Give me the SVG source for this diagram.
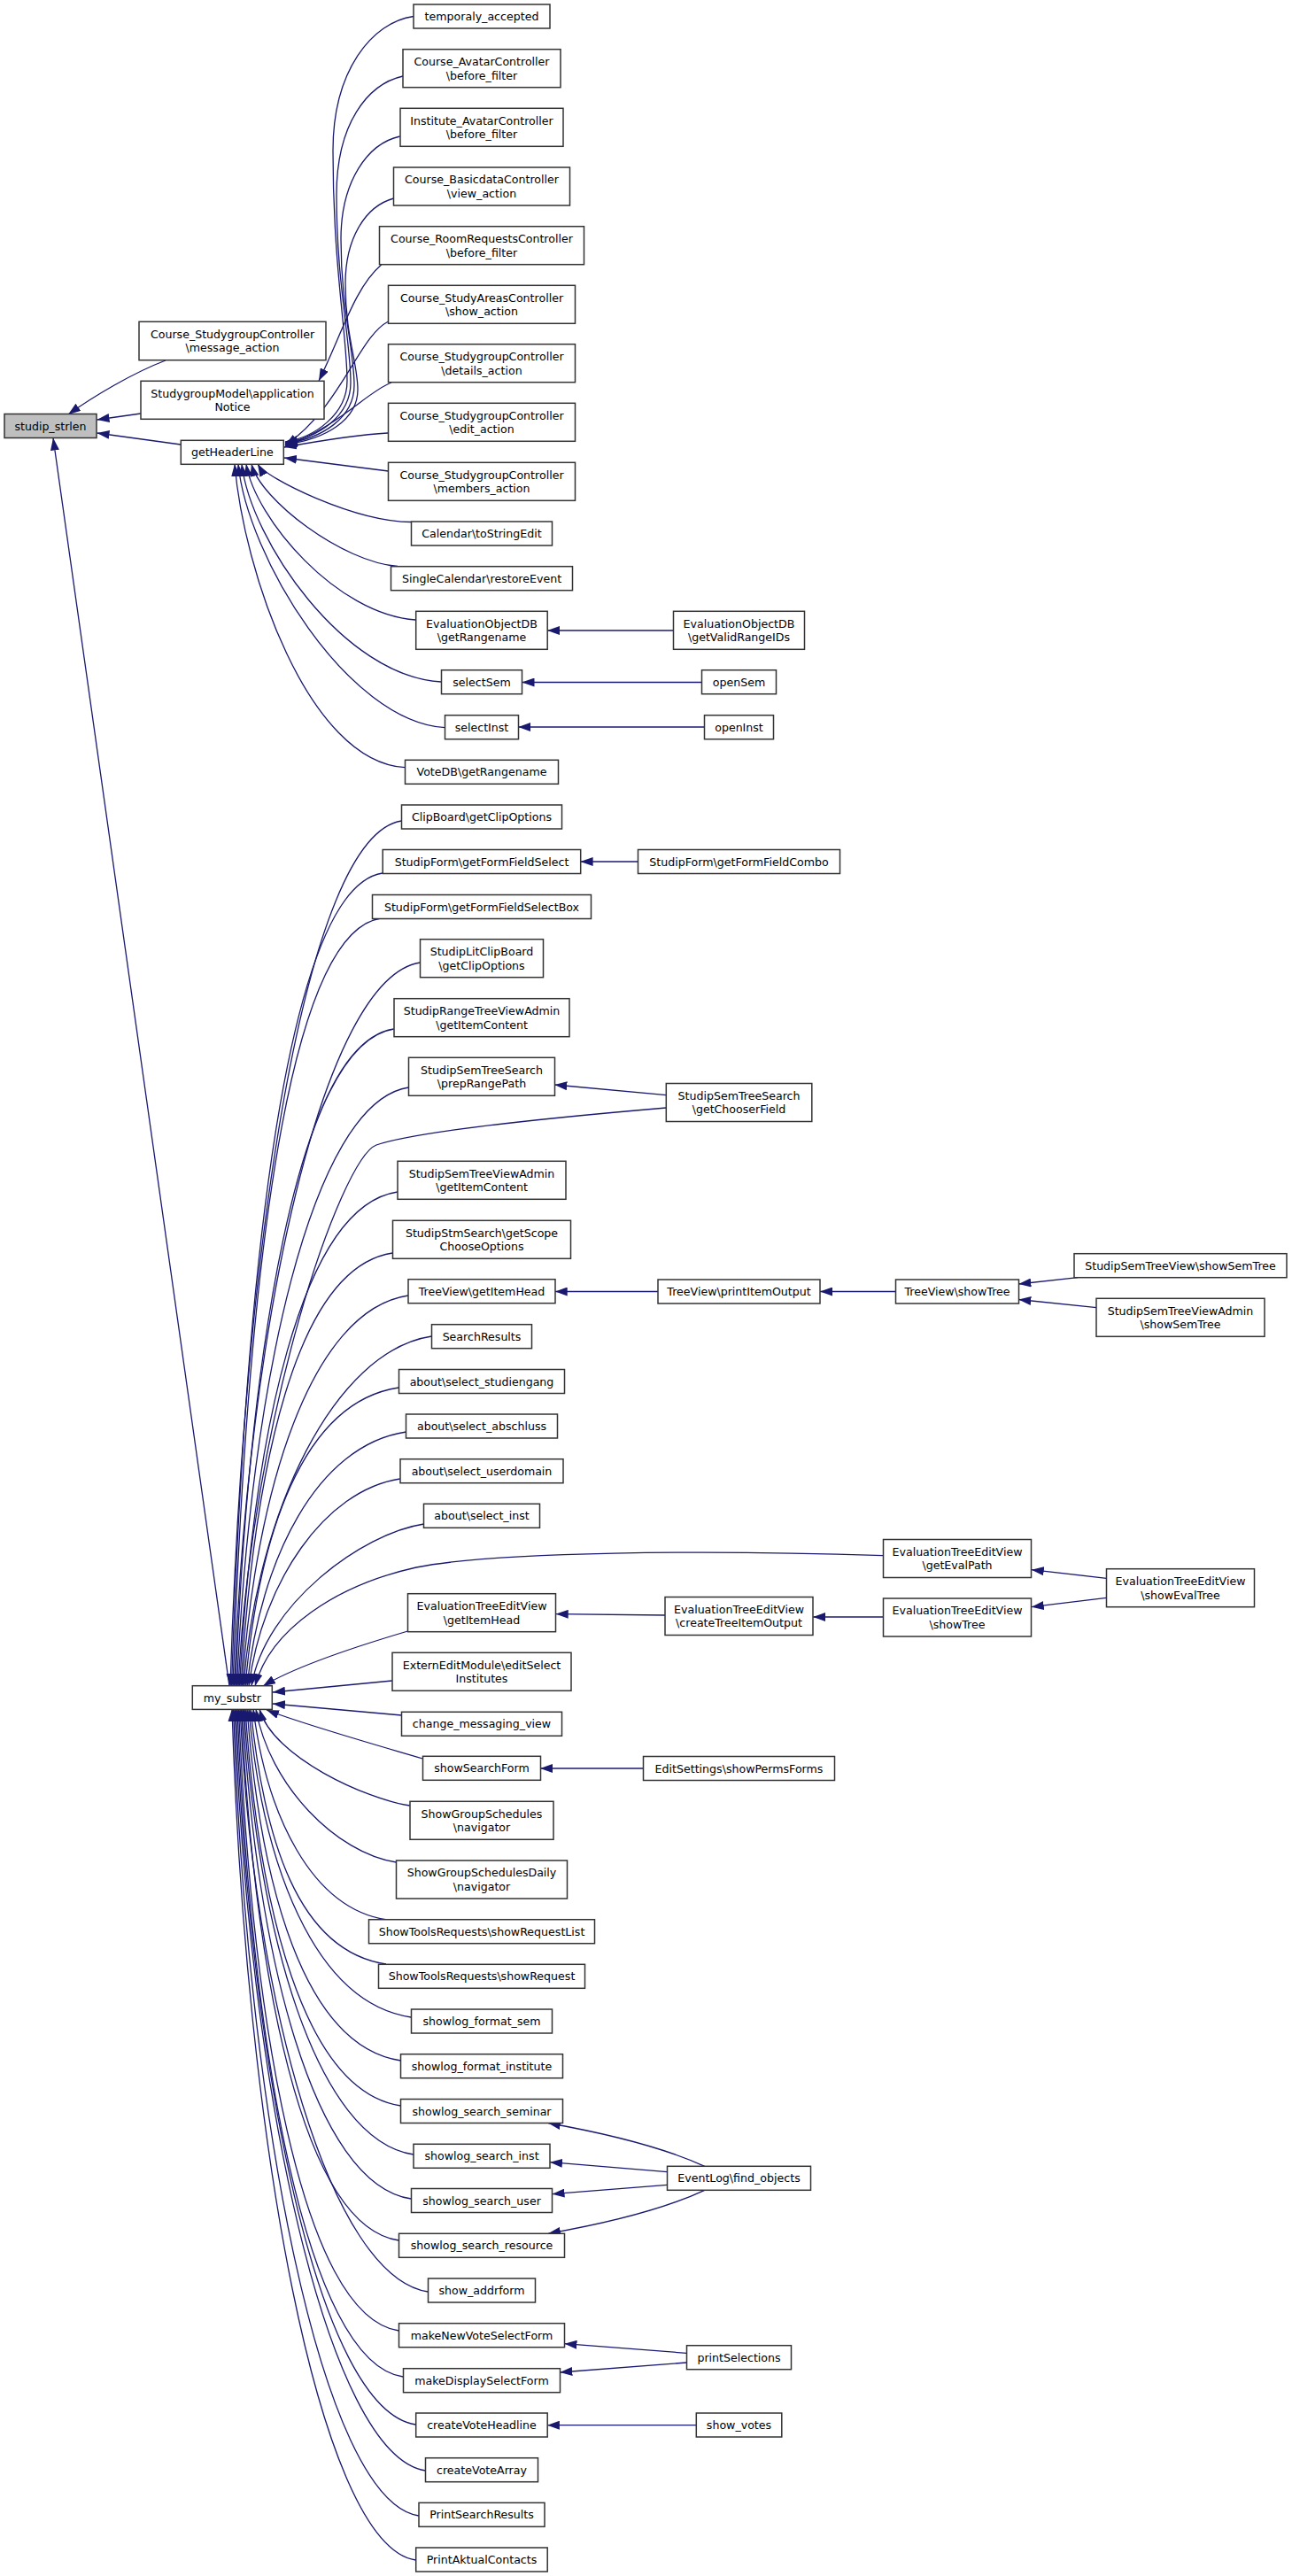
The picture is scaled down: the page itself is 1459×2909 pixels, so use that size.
<svg xmlns="http://www.w3.org/2000/svg" width="1459" height="2909" viewBox="0 0 1459 2909">
<style>
rect{fill:#fff;stroke:#333;stroke-width:1.5}
.grey rect{fill:#bfbfbf}
text{font-family:"DejaVu Sans","Liberation Sans",sans-serif;font-size:12.6px;text-anchor:middle;fill:#000}
#edges path{fill:none;stroke:#191970;stroke-width:1.3;marker-end:url(#ah)}
</style>
<defs>
<marker id="ah" markerUnits="userSpaceOnUse" markerWidth="14" markerHeight="10" refX="14" refY="5" orient="auto"><path d="M0,0 L14,5 L0,10 z" fill="#191970"/></marker>
</defs>
<rect x="0" y="0" width="1459" height="2909" style="fill:#fff;stroke:none"/>
<g id="edges">
<path d="M187,407 C150,421 105,448 77,468"/>
<path d="M159,467 L109.5,474"/>
<path d="M204,502 L109.5,489"/>
<path d="M259,1904 L60,494.5"/>
<path d="M430.6,299 C400,325 385,380 360,430"/>
<path d="M467,18.5 C420,25 376,80 376,170 C376,300 392,380 392,430 C392,468 355,494 322,499"/>
<path d="M455,86 C415,95 380,140 380,220 C380,320 396,385 396,432 C396,470 360,494 322,500"/>
<path d="M451.6,154 C415,162 385,205 385,270 C385,350 400,395 400,435 C400,472 364,495 322,501"/>
<path d="M444.6,224 C412,233 390,270 390,320 C390,380 404,410 404,440 C404,474 368,496 322,502"/>
<path d="M438.5,363 C405,380 385,460 322,503"/>
<path d="M442,432 C415,442 385,480 322,504"/>
<path d="M438,489 C400,491 360,498 321,505"/>
<path d="M438.5,532 L321,517"/>
<path d="M464.2,589.5 C400,589 300,540 291,524"/>
<path d="M449,639.5 C387,635 294,564.6 284,524"/>
<path d="M469.4,700 C380.4,694 288,585.6 278,524"/>
<path d="M498.2,770 C388.2,764 283,610 273,524"/>
<path d="M502.4,821.7 C392.4,815 279,628 269,524"/>
<path d="M457.3,866.7 C347.3,860 275,644 265,524"/>
<path d="M760.3,712 L618,712"/>
<path d="M792.5,770.5 L589.5,770.5"/>
<path d="M795.3,821 L585.3,821"/>
<path d="M453.5,927 C343.5,943.5 275,1415.5 260,1904"/>
<path d="M432,986 C322,1002.5 276.5,1445 261.5,1904"/>
<path d="M720.3,973 L655.6,973"/>
<path d="M430,1037 C320,1053.5 278,1470.5 263,1904"/>
<path d="M474.5,1087 C364.5,1103.5 279.5,1495.5 264.5,1904"/>
<path d="M444.7,1162 C334.7,1178.5 281,1533 266,1904"/>
<path d="M461.5,1228 C351.5,1244.5 282.5,1566 267.5,1904"/>
<path d="M752.4,1236.7 L626.3,1225"/>
<path d="M752.4,1251 C600,1264 470,1278 425,1293 C385,1308 284,1600 269,1904"/>
<path d="M448.9,1346 C338.9,1362.5 285.5,1625 270.5,1904"/>
<path d="M443.3,1415 C333.3,1431.5 287,1659.5 272,1904"/>
<path d="M461,1463 C351,1479.5 288.5,1683.5 273.5,1904"/>
<path d="M743,1458.5 L626.7,1458.5"/>
<path d="M1011.6,1458.5 L926,1458.5"/>
<path d="M1217,1442.7 L1150.3,1450"/>
<path d="M1238.3,1476.7 L1150.3,1467.5"/>
<path d="M487.5,1509 C377.5,1525.5 290,1706.5 275,1904"/>
<path d="M450.3,1567 C340.3,1583.5 292,1735.5 277,1904"/>
<path d="M458.7,1617 C357.7,1632 294,1760.5 279,1904"/>
<path d="M451.7,1670 C366.7,1683 296,1787 281,1904"/>
<path d="M478.7,1721 C408.7,1731.5 299,1812.5 284,1904"/>
<path d="M997.3,1756.7 C800,1750 560,1752 470,1770 C380,1790 305,1840 288,1904"/>
<path d="M460.5,1842 C420,1854 340,1878 297,1904"/>
<path d="M751,1824 L627.7,1822.7"/>
<path d="M997.6,1826 L918.2,1826"/>
<path d="M1249.5,1782.3 L1164.8,1772.7"/>
<path d="M1249.5,1804.3 L1164.8,1814.7"/>
<path d="M442.8,1898 L308,1911"/>
<path d="M453.5,1937 L308,1924"/>
<path d="M477.3,1986 C430,1972 345,1948 301,1931"/>
<path d="M726.4,1997 L610,1997"/>
<path d="M462.8,2039 C414.8,2032 308,1984.5 293,1930"/>
<path d="M447.5,2103 C380.5,2093 304,2016.5 289,1930"/>
<path d="M437,2168 C351,2155 301,2049 286,1930"/>
<path d="M436,2218 C335,2203 298,2074 283,1930"/>
<path d="M464.2,2278 C354.2,2261.5 296,2104 281,1930"/>
<path d="M452.6,2327 C342.6,2310.5 294,2128.5 279,1930"/>
<path d="M452.6,2378 C342.6,2361.5 292,2154 277,1930"/>
<path d="M467,2433 C357,2416.5 290.5,2181.5 275.5,1930"/>
<path d="M464.2,2483 C354.2,2466.5 289,2206.5 274,1930"/>
<path d="M450.3,2530 C340.3,2513.5 287.5,2230 272.5,1930"/>
<path d="M483.3,2588 C373.3,2571.5 286,2259 271,1930"/>
<path d="M450.3,2632 C340.3,2615.5 284.5,2281 269.5,1930"/>
<path d="M455,2684 C345,2667.5 283,2307 268,1930"/>
<path d="M469.4,2738 C359.4,2721.5 281.5,2334 266.5,1930"/>
<path d="M480.5,2790 C370.5,2773.5 280,2360 265,1930"/>
<path d="M473,2841 C363,2824.5 278.5,2385.5 263.5,1930"/>
<path d="M469.4,2891 C359.4,2874.5 277,2410.5 262,1930"/>
<path d="M795.7,2446.3 C760,2430 700,2412 619,2397.5"/>
<path d="M753.4,2452.7 L621,2441.7"/>
<path d="M753.4,2467.3 L623.5,2477.7"/>
<path d="M795.7,2473.3 C760,2490 700,2508 619,2522.3"/>
<path d="M775.2,2657.3 L637.4,2646.7"/>
<path d="M775.2,2668 L632.3,2679"/>
<path d="M786.4,2738.7 L617.9,2738.7"/>
</g>
<g id="n_studip_strlen" class="grey"><rect x="5" y="467.5" width="104" height="27"/><text x="57" y="485.5">studip_strlen</text></g>
<g id="n_message_action"><rect x="157" y="363.3" width="211" height="43.4"/><text x="262.5" y="381.5">Course_StudygroupController</text><text x="262.5" y="397.1">\message_action</text></g>
<g id="n_applicationNotice"><rect x="159" y="430.3" width="207" height="43"/><text x="262.5" y="448.5">StudygroupModel\application</text><text x="262.5" y="464.1">Notice</text></g>
<g id="n_getHeaderLine"><rect x="204.3" y="497.3" width="116" height="27"/><text x="262.3" y="515.3">getHeaderLine</text></g>
<g id="n_my_substr"><rect x="217.3" y="1903.7" width="90" height="26.7"/><text x="262.3" y="1921.7">my_substr</text></g>
<g id="n_temporaly_accepted"><rect x="467" y="5" width="154" height="27"/><text x="544" y="23">temporaly_accepted</text></g>
<g id="n_avatar_before"><rect x="455" y="55.7" width="178" height="43"/><text x="544" y="73.9">Course_AvatarController</text><text x="544" y="89.5">\before_filter</text></g>
<g id="n_inst_avatar_before"><rect x="452" y="122.3" width="184" height="43"/><text x="544" y="140.5">Institute_AvatarController</text><text x="544" y="156.1">\before_filter</text></g>
<g id="n_basicdata_view"><rect x="444.5" y="189" width="199" height="43"/><text x="544" y="207.2">Course_BasicdataController</text><text x="544" y="222.8">\view_action</text></g>
<g id="n_roomrequests_before"><rect x="428.5" y="255.7" width="231" height="43"/><text x="544" y="273.9">Course_RoomRequestsController</text><text x="544" y="289.5">\before_filter</text></g>
<g id="n_studyareas_show"><rect x="438.5" y="322.3" width="211" height="43"/><text x="544" y="340.5">Course_StudyAreasController</text><text x="544" y="356.1">\show_action</text></g>
<g id="n_sg_details"><rect x="438.5" y="388.7" width="211" height="43"/><text x="544" y="406.9">Course_StudygroupController</text><text x="544" y="422.5">\details_action</text></g>
<g id="n_sg_edit"><rect x="438.5" y="455.3" width="211" height="43"/><text x="544" y="473.5">Course_StudygroupController</text><text x="544" y="489.1">\edit_action</text></g>
<g id="n_sg_members"><rect x="438.5" y="522.3" width="211" height="43"/><text x="544" y="540.5">Course_StudygroupController</text><text x="544" y="556.1">\members_action</text></g>
<g id="n_calendar_tostringedit"><rect x="464.5" y="589" width="159" height="27"/><text x="544" y="607">Calendar\toStringEdit</text></g>
<g id="n_singlecalendar_restore"><rect x="441.5" y="639.7" width="205" height="27"/><text x="544" y="657.7">SingleCalendar\restoreEvent</text></g>
<g id="n_evalobjdb_getrangename"><rect x="469.7" y="690.3" width="148.5" height="43"/><text x="544" y="708.5">EvaluationObjectDB</text><text x="544" y="724.1">\getRangename</text></g>
<g id="n_selectSem"><rect x="498.5" y="756.7" width="91" height="27"/><text x="544" y="774.7">selectSem</text></g>
<g id="n_selectInst"><rect x="502.5" y="807.7" width="83" height="27"/><text x="544" y="825.7">selectInst</text></g>
<g id="n_votedb_getrangename"><rect x="457.5" y="858.3" width="173" height="27"/><text x="544" y="876.3">VoteDB\getRangename</text></g>
<g id="n_clipboard_getclipoptions"><rect x="453.5" y="909" width="181" height="27"/><text x="544" y="927">ClipBoard\getClipOptions</text></g>
<g id="n_studipform_select"><rect x="432.2" y="959.5" width="223.5" height="27"/><text x="544" y="977.5">StudipForm\getFormFieldSelect</text></g>
<g id="n_studipform_selectbox"><rect x="420.5" y="1010.5" width="247" height="27"/><text x="544" y="1028.5">StudipForm\getFormFieldSelectBox</text></g>
<g id="n_litclipboard"><rect x="474.5" y="1060.7" width="139" height="43"/><text x="544" y="1078.9">StudipLitClipBoard</text><text x="544" y="1094.5">\getClipOptions</text></g>
<g id="n_rangetreeviewadmin"><rect x="445" y="1127.7" width="198" height="43"/><text x="544" y="1145.9">StudipRangeTreeViewAdmin</text><text x="544" y="1161.5">\getItemContent</text></g>
<g id="n_semtreesearch_prep"><rect x="461.5" y="1194.3" width="165" height="43"/><text x="544" y="1212.5">StudipSemTreeSearch</text><text x="544" y="1228.1">\prepRangePath</text></g>
<g id="n_semtreeviewadmin_content"><rect x="449" y="1311.3" width="190" height="43"/><text x="544" y="1329.5">StudipSemTreeViewAdmin</text><text x="544" y="1345.1">\getItemContent</text></g>
<g id="n_stmsearch"><rect x="443.5" y="1378.3" width="201" height="43"/><text x="544" y="1396.5">StudipStmSearch\getScope</text><text x="544" y="1412.1">ChooseOptions</text></g>
<g id="n_treeview_getitemhead"><rect x="461" y="1444.7" width="166" height="27"/><text x="544" y="1462.7">TreeView\getItemHead</text></g>
<g id="n_searchresults"><rect x="487.5" y="1495.7" width="113" height="27"/><text x="544" y="1513.7">SearchResults</text></g>
<g id="n_select_studiengang"><rect x="450.5" y="1546.5" width="187" height="27"/><text x="544" y="1564.5">about\select_studiengang</text></g>
<g id="n_select_abschluss"><rect x="458.5" y="1597" width="171" height="27"/><text x="544" y="1615">about\select_abschluss</text></g>
<g id="n_select_userdomain"><rect x="452" y="1647.7" width="184" height="27"/><text x="544" y="1665.7">about\select_userdomain</text></g>
<g id="n_select_inst"><rect x="478.5" y="1698.3" width="131" height="27"/><text x="544" y="1716.3">about\select_inst</text></g>
<g id="n_etev_getitemhead"><rect x="460.5" y="1799.7" width="167" height="43"/><text x="544" y="1817.9">EvaluationTreeEditView</text><text x="544" y="1833.5">\getItemHead</text></g>
<g id="n_externeditmodule"><rect x="443" y="1866.3" width="202" height="43"/><text x="544" y="1884.5">ExternEditModule\editSelect</text><text x="544" y="1900.1">Institutes</text></g>
<g id="n_change_messaging_view"><rect x="453.5" y="1933.3" width="181" height="27"/><text x="544" y="1951.3">change_messaging_view</text></g>
<g id="n_showsearchform"><rect x="477.5" y="1983.3" width="133" height="27"/><text x="544" y="2001.3">showSearchForm</text></g>
<g id="n_showgroupschedules"><rect x="463" y="2034.3" width="162" height="43"/><text x="544" y="2052.5">ShowGroupSchedules</text><text x="544" y="2068.1">\navigator</text></g>
<g id="n_showgroupschedulesdaily"><rect x="447.5" y="2101" width="193" height="43"/><text x="544" y="2119.2">ShowGroupSchedulesDaily</text><text x="544" y="2134.8">\navigator</text></g>
<g id="n_showrequestlist"><rect x="416.5" y="2167.7" width="255" height="27"/><text x="544" y="2185.7">ShowToolsRequests\showRequestList</text></g>
<g id="n_showrequest"><rect x="427.5" y="2218.3" width="233" height="27"/><text x="544" y="2236.3">ShowToolsRequests\showRequest</text></g>
<g id="n_showlog_format_sem"><rect x="464.5" y="2269" width="159" height="27"/><text x="544" y="2287">showlog_format_sem</text></g>
<g id="n_showlog_format_institute"><rect x="452.5" y="2319.7" width="183" height="27"/><text x="544" y="2337.7">showlog_format_institute</text></g>
<g id="n_showlog_search_seminar"><rect x="452.5" y="2370.5" width="183" height="27"/><text x="544" y="2388.5">showlog_search_seminar</text></g>
<g id="n_showlog_search_inst"><rect x="467" y="2421.3" width="154" height="27"/><text x="544" y="2439.3">showlog_search_inst</text></g>
<g id="n_showlog_search_user"><rect x="464.5" y="2471.5" width="159" height="27"/><text x="544" y="2489.5">showlog_search_user</text></g>
<g id="n_showlog_search_resource"><rect x="450.5" y="2522.3" width="187" height="27"/><text x="544" y="2540.3">showlog_search_resource</text></g>
<g id="n_show_addrform"><rect x="483.5" y="2573" width="121" height="27"/><text x="544" y="2591">show_addrform</text></g>
<g id="n_makenewvoteselectform"><rect x="450.5" y="2623.7" width="187" height="27"/><text x="544" y="2641.7">makeNewVoteSelectForm</text></g>
<g id="n_makedisplayselectform"><rect x="455.5" y="2674.7" width="177" height="27"/><text x="544" y="2692.7">makeDisplaySelectForm</text></g>
<g id="n_createvoteheadline"><rect x="469.7" y="2725" width="148.5" height="27"/><text x="544" y="2743">createVoteHeadline</text></g>
<g id="n_createvotearray"><rect x="480.5" y="2775.7" width="127" height="27"/><text x="544" y="2793.7">createVoteArray</text></g>
<g id="n_printsearchresults"><rect x="473" y="2826.3" width="142" height="27"/><text x="544" y="2844.3">PrintSearchResults</text></g>
<g id="n_printaktualcontacts"><rect x="469.7" y="2877" width="148.5" height="27"/><text x="544" y="2895">PrintAktualContacts</text></g>
<g id="n_evalobjdb_validrangeids"><rect x="760.5" y="690.3" width="148" height="43"/><text x="834.5" y="708.5">EvaluationObjectDB</text><text x="834.5" y="724.1">\getValidRangeIDs</text></g>
<g id="n_opensem"><rect x="792.5" y="756.7" width="84" height="27"/><text x="834.5" y="774.7">openSem</text></g>
<g id="n_openinst"><rect x="795.5" y="807.7" width="78" height="27"/><text x="834.5" y="825.7">openInst</text></g>
<g id="n_studipform_combo"><rect x="720.5" y="959.5" width="228" height="27"/><text x="834.5" y="977.5">StudipForm\getFormFieldCombo</text></g>
<g id="n_semtreesearch_chooser"><rect x="752.3" y="1223.5" width="164.5" height="43"/><text x="834.5" y="1241.7">StudipSemTreeSearch</text><text x="834.5" y="1257.3">\getChooserField</text></g>
<g id="n_treeview_printitemoutput"><rect x="743" y="1445" width="183" height="27"/><text x="834.5" y="1463">TreeView\printItemOutput</text></g>
<g id="n_etev_createtreeitemoutput"><rect x="751" y="1803.5" width="167" height="43"/><text x="834.5" y="1821.7">EvaluationTreeEditView</text><text x="834.5" y="1837.3">\createTreeItemOutput</text></g>
<g id="n_editsettings_showpermsforms"><rect x="726.5" y="1983.5" width="216" height="27"/><text x="834.5" y="2001.5">EditSettings\showPermsForms</text></g>
<g id="n_eventlog_find_objects"><rect x="753.5" y="2446.3" width="162" height="27"/><text x="834.5" y="2464.3">EventLog\find_objects</text></g>
<g id="n_printselections"><rect x="775.5" y="2648.7" width="118" height="27"/><text x="834.5" y="2666.7">printSelections</text></g>
<g id="n_show_votes"><rect x="786.3" y="2725" width="96.5" height="27"/><text x="834.5" y="2743">show_votes</text></g>
<g id="n_treeview_showtree"><rect x="1011.5" y="1445" width="139" height="27"/><text x="1081" y="1463">TreeView\showTree</text></g>
<g id="n_etev_getevalpath"><rect x="997.5" y="1738.5" width="167" height="43"/><text x="1081" y="1756.7">EvaluationTreeEditView</text><text x="1081" y="1772.3">\getEvalPath</text></g>
<g id="n_etev_showtree"><rect x="997.5" y="1805" width="167" height="43"/><text x="1081" y="1823.2">EvaluationTreeEditView</text><text x="1081" y="1838.8">\showTree</text></g>
<g id="n_semtreeview_showsemtree"><rect x="1213" y="1415.7" width="240" height="27"/><text x="1333" y="1433.7">StudipSemTreeView\showSemTree</text></g>
<g id="n_semtreeviewadmin_showsemtree"><rect x="1238" y="1466.3" width="190" height="43"/><text x="1333" y="1484.5">StudipSemTreeViewAdmin</text><text x="1333" y="1500.1">\showSemTree</text></g>
<g id="n_etev_showevaltree"><rect x="1249.5" y="1771.7" width="167" height="43"/><text x="1333" y="1789.9">EvaluationTreeEditView</text><text x="1333" y="1805.5">\showEvalTree</text></g>
</svg>
